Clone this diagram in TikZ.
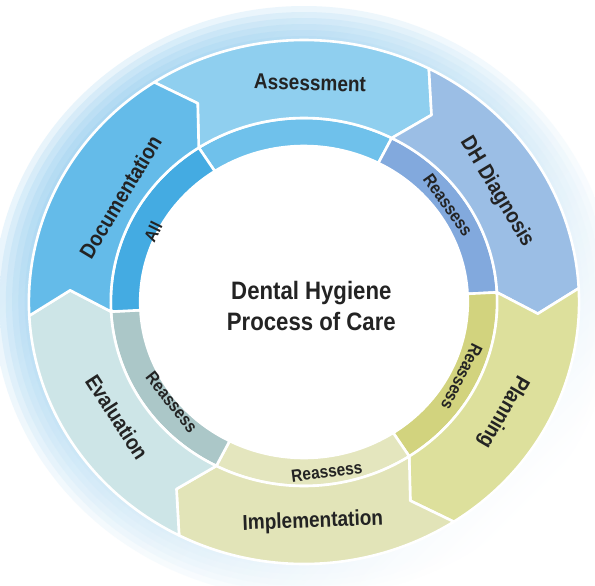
\documentclass[tikz,border=0pt]{standalone}
\usepackage{fontspec}
\newfontfamily\condsans{Liberation Sans}[FakeStretch=0.88]
\usetikzlibrary{calc}

\definecolor{ink}{HTML}{232323}
\definecolor{haze}{HTML}{8FCBEF}
\definecolor{assessblue}{HTML}{8FCFEF}
\definecolor{assessinner}{HTML}{6FC1EB}
\definecolor{diagblue}{HTML}{9BBEE5}
\definecolor{diaginner}{HTML}{82A9DD}
\definecolor{planlime}{HTML}{DDE09C}
\definecolor{planinner}{HTML}{D2D37E}
\definecolor{implpale}{HTML}{E2E4B8}
\definecolor{implinner}{HTML}{E4E6BE}
\definecolor{evalteal}{HTML}{CDE5E7}
\definecolor{evalinner}{HTML}{ABC7C8}
\definecolor{docblue}{HTML}{64BBE9}
\definecolor{docinner}{HTML}{44ABE2}

% one stage of the ring: #1 tail angle, #2 outer colour, #3 inner colour
\newcommand{\stagepiece}[3]{%
  \filldraw[piece, fill=#3] (#1:184) arc[start angle=#1, end angle=#1-60, radius=184]
    -- (#1-60:156) arc[start angle=#1-60, end angle=#1, radius=156] -- cycle;
  \filldraw[piece, fill=#2] (#1:262) arc[start angle=#1, end angle=#1-60, radius=262]
    -- (#1-66:223) -- (#1-60:184) arc[start angle=#1-60, end angle=#1, radius=184]
    -- (#1-6:223) -- cycle;
}

\begin{document}
\begin{tikzpicture}[
    x={(0.525pt,0)}, y={(0,0.5pt)},
    piece/.style={draw=white, line width=1.3pt, line join=round},
    halo/.style={top color=haze, bottom color=white, shading angle=45, opacity=0.2},
    title/.style={font=\condsans\bfseries\fontsize{12.6}{15.5}\selectfont, text=ink, align=center},
    stagelabel/.style={font=\condsans\bfseries\fontsize{10.8}{12}\selectfont, text=ink, inner sep=0pt},
    backlabel/.style={font=\condsans\bfseries\fontsize{8.8}{10}\selectfont, text=ink, inner sep=0pt}
]
    \useasboundingbox[fill=white] (-152pt,-141.5pt) rectangle (145.5pt,151pt);

    % soft halo round the ring
    \shade[halo] (0,0) circle[radius=296];
    \shade[halo] (0,0) circle[radius=290];
    \shade[halo] (0,0) circle[radius=284];
    \shade[halo] (0,0) circle[radius=278];
    \shade[halo] (0,0) circle[radius=272];
    \shade[halo] (0,0) circle[radius=266];
    \fill[white] (0,0) circle[radius=160];

    % the six stages, clockwise
    \stagepiece{123}{assessblue}{assessinner}
    \stagepiece{63}{diagblue}{diaginner}
    \stagepiece{3}{planlime}{planinner}
    \stagepiece{-57}{implpale}{implinner}
    \stagepiece{-117}{evalteal}{evalinner}
    \stagepiece{-177}{docblue}{docinner}

    \node[title] (centre) at (7,-4) {Dental Hygiene\\Process of Care};

    \node[stagelabel, rotate=-1.5] (assess) at (88.5:219) {Assessment};
    \node[stagelabel, rotate=-59] (diag) at (30.9:214) {DH Diagnosis};
    \node[stagelabel, rotate=-120] (plan) at (-30.1:219) {Planning};
    \node[stagelabel, rotate=2.2] (impl) at (-87.8:220) {Implementation};
    \node[stagelabel, rotate=-57] (eval) at (212.9:212) {Evaluation};
    \node[stagelabel, rotate=59] (doc) at (149:204) {Documentation};

    \node[backlabel, rotate=-54.7] (diagback) at (35.3:168) {Reassess};
    \node[backlabel, rotate=-116.5] (planback) at (-26.5:168) {Reassess};
    \node[backlabel, rotate=7.3] (implback) at (-82.7:171) {Reassess};
    \node[backlabel, rotate=-51.5] (evalback) at (218.5:161) {Reassess};
    \node[backlabel, rotate=64] (docback) at (154:160) {All};
\end{tikzpicture}
\end{document}
